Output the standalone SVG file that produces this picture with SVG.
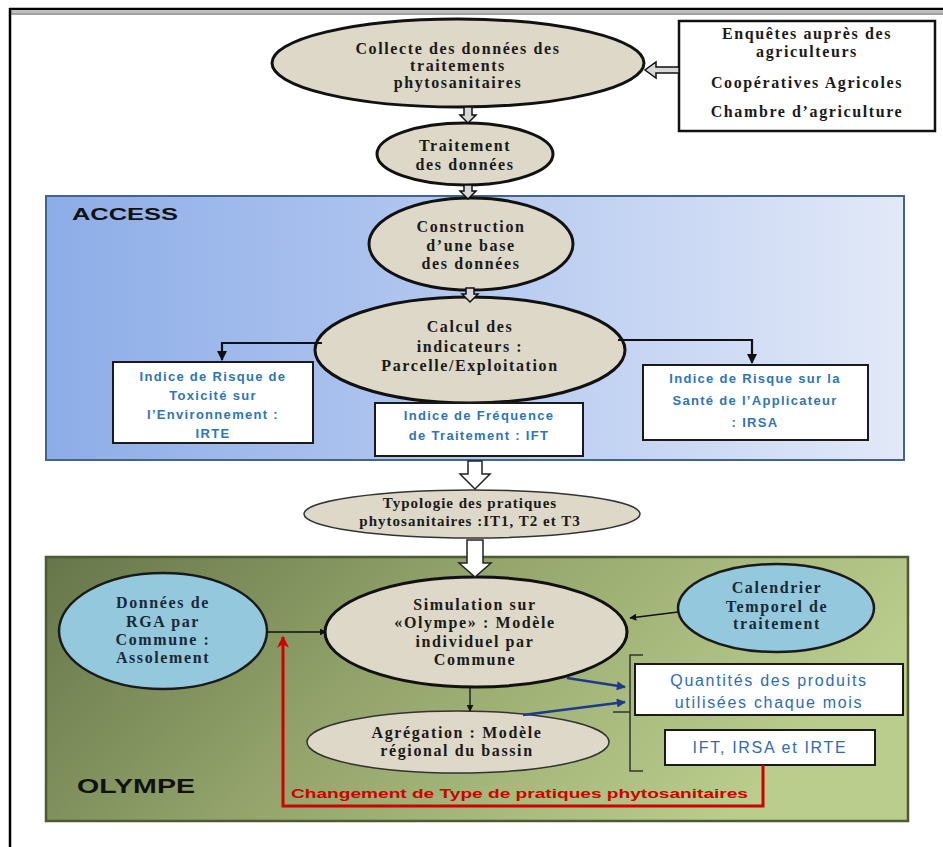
<svg xmlns="http://www.w3.org/2000/svg" width="943" height="847" viewBox="0 0 943 847">
<defs>
<linearGradient id="gAccess" x1="0" y1="0" x2="1" y2="0">
<stop offset="0" stop-color="#8dade8"/><stop offset="0.5" stop-color="#b5c9f0"/><stop offset="1" stop-color="#e2e9f8"/>
</linearGradient>
<linearGradient id="gOlympe" x1="0" y1="0" x2="1" y2="0.3">
<stop offset="0" stop-color="#66764a"/><stop offset="0.45" stop-color="#92a26a"/><stop offset="1" stop-color="#bacd8c"/>
</linearGradient>
<marker id="mBlack" viewBox="0 0 10 10" refX="9" refY="5" markerWidth="7" markerHeight="7" markerUnits="userSpaceOnUse" orient="auto"><path d="M0,0 L10,5 L0,10 Z" fill="#111"/></marker>
<marker id="mBig" viewBox="0 0 10 10" refX="9" refY="5" markerWidth="10" markerHeight="10" markerUnits="userSpaceOnUse" orient="auto"><path d="M0,0 L10,5 L0,10 Z" fill="#111"/></marker>
<marker id="mBlue" viewBox="0 0 10 10" refX="9" refY="5" markerWidth="10" markerHeight="9" markerUnits="userSpaceOnUse" orient="auto"><path d="M0,0 L10,5 L0,10 Z" fill="#1f3a8a"/></marker>
<marker id="mRed" viewBox="0 0 10 10" refX="9" refY="5" markerWidth="12" markerHeight="12" markerUnits="userSpaceOnUse" orient="auto"><path d="M0,0 L10,5 L0,10 L3,5 Z" fill="#d00000"/></marker>
</defs>
<style>
.beige{fill:#ddd8c8;stroke:#111;stroke-width:3}
.beigeThin{fill:#ddd8c8;stroke:#333;stroke-width:1.5}
.sky{fill:#94c9dd;stroke:#1a1a1a;stroke-width:2.5}
.wbox{fill:#fff;stroke:#1a1a1a;stroke-width:2}
.t{font-family:"Liberation Serif","Times New Roman",serif;font-weight:bold;font-size:16px;letter-spacing:1.6px;fill:#1a1a1a;text-anchor:middle}
.tn{fill:#1b2838}
.ts{font-size:15px;letter-spacing:1px}
.b{font-family:"Liberation Sans",Arial,sans-serif;font-weight:bold;font-size:13px;letter-spacing:1.3px;fill:#2e75b6;text-anchor:middle}
.bl{font-family:"Liberation Sans",Arial,sans-serif;font-size:16px;letter-spacing:1.7px;fill:#2e6db0;text-anchor:middle}
.lab{font-family:"Liberation Sans",Arial,sans-serif;font-weight:bold;fill:#111}
.red{font-family:"Liberation Sans",Arial,sans-serif;font-weight:bold;font-size:13px;fill:#d00000}
.blk{fill:#d8d8d8;stroke:#111;stroke-width:1.5}
.blkW{fill:#fff;stroke:#222;stroke-width:1.5}
.ln{fill:none;stroke:#111;stroke-width:2.2}
.thin{fill:none;stroke:#111;stroke-width:1.3}
.blue{fill:none;stroke:#1f3a8a;stroke-width:2.6}
.redl{fill:none;stroke:#d00000;stroke-width:3}
</style>

<g id="frame">
<line x1="9" y1="9" x2="943" y2="9" stroke="#000" stroke-width="2.5"/>
<line x1="11" y1="12" x2="943" y2="12" stroke="#aaa" stroke-width="1.5"/>
<line x1="11" y1="14" x2="943" y2="14" stroke="#444" stroke-width="1.2"/>
<line x1="10" y1="8" x2="10" y2="847" stroke="#000" stroke-width="2.5"/>
</g>

<g id="panel-access">
<rect x="46" y="196" width="858" height="264" fill="url(#gAccess)" stroke="#44648c" stroke-width="2"/>
<text class="lab" x="72" y="220" font-size="17" textLength="106" lengthAdjust="spacingAndGlyphs" fill="#16233c">ACCESS</text>
</g>

<g id="panel-olympe">
<rect x="46" y="557" width="862" height="264" fill="url(#gOlympe)" stroke="#4d5a33" stroke-width="2.5"/>
<text class="lab" x="77" y="793" font-size="21" textLength="118" lengthAdjust="spacingAndGlyphs">OLYMPE</text>
</g>

<g id="n-collecte">
<ellipse class="beige" cx="458" cy="63" rx="186" ry="44"/>
<text class="t" x="458" y="54">Collecte des données des</text>
<text class="t" x="458" y="71">traitements</text>
<text class="t" x="458" y="88">phytosanitaires</text>
</g>

<g id="n-sources">
<rect x="679" y="21" width="256" height="110" fill="#fff" stroke="#111" stroke-width="2.5"/>
<text class="t" x="807" y="39">Enquêtes auprès des</text>
<text class="t" x="807" y="57">agriculteurs</text>
<text class="t" x="807" y="88">Coopératives Agricoles</text>
<text class="t" x="807" y="117">Chambre d’agriculture</text>
</g>

<g id="n-traitement">
<ellipse class="beige" cx="465" cy="154" rx="88" ry="31"/>
<text class="t" x="465" y="151">Traitement</text>
<text class="t" x="465" y="170">des données</text>
</g>

<g id="n-construction">
<ellipse class="beige" cx="471" cy="244" rx="102" ry="46"/>
<text class="t" x="471" y="232">Construction</text>
<text class="t" x="471" y="251">d’une base</text>
<text class="t" x="471" y="269">des données</text>
</g>

<g id="n-calcul">
<ellipse class="beige" cx="470" cy="350" rx="155" ry="53"/>
<text class="t" x="470" y="332">Calcul des</text>
<text class="t" x="470" y="352">indicateurs :</text>
<text class="t" x="470" y="371">Parcelle/Exploitation</text>
</g>

<g id="n-irte">
<rect class="wbox" x="113" y="362" width="200" height="81"/>
<text class="b" x="213" y="381">Indice de  Risque de</text>
<text class="b" x="213" y="400">Toxicité sur</text>
<text class="b" x="213" y="419">l’Environnement :</text>
<text class="b" x="213" y="438">IRTE</text>
</g>

<g id="n-ift">
<rect class="wbox" x="375" y="403" width="208" height="53"/>
<text class="b" x="479" y="420">Indice de Fréquence</text>
<text class="b" x="479" y="440">de Traitement : IFT</text>
</g>

<g id="n-irsa">
<rect class="wbox" x="643" y="365" width="225" height="75"/>
<text class="b" x="755" y="383">Indice de  Risque sur la</text>
<text class="b" x="755" y="405">Santé de l’Applicateur</text>
<text class="b" x="755" y="427">: IRSA</text>
</g>

<g id="n-typologie">
<ellipse class="beigeThin" cx="472" cy="514" rx="168" ry="24"/>
<text class="t ts" x="470" y="508">Typologie des pratiques</text>
<text class="t ts" x="470" y="526">phytosanitaires :IT1, T2 et T3</text>
</g>

<g id="n-rga">
<ellipse class="sky" cx="163" cy="631" rx="104" ry="58"/>
<text class="t tn" x="163" y="608">Données de</text>
<text class="t tn" x="163" y="627">RGA par</text>
<text class="t tn" x="163" y="645">Commune :</text>
<text class="t tn" x="163" y="663">Assolement</text>
</g>

<g id="n-simulation">
<ellipse class="beige" cx="476" cy="632" rx="151" ry="55"/>
<text class="t" x="475" y="610">Simulation sur</text>
<text class="t" x="475" y="628">«Olympe» : Modèle</text>
<text class="t" x="475" y="647">individuel par</text>
<text class="t" x="475" y="665">Commune</text>
</g>

<g id="n-calendrier">
<ellipse class="sky" cx="776" cy="608" rx="98" ry="44"/>
<text class="t tn" x="777" y="593">Calendrier</text>
<text class="t tn" x="777" y="612">Temporel de</text>
<text class="t tn" x="777" y="629">traitement</text>
</g>

<g id="n-agregation">
<ellipse class="beigeThin" cx="458" cy="742" rx="151" ry="31"/>
<text class="t" x="457" y="738">Agrégation : Modèle</text>
<text class="t" x="457" y="756">régional du bassin</text>
</g>

<g id="n-quantites">
<rect class="wbox" x="635" y="664" width="268" height="51"/>
<text class="bl" x="769" y="686">Quantités des produits</text>
<text class="bl" x="769" y="708">utilisées chaque mois</text>
</g>

<g id="n-indices">
<rect class="wbox" x="665" y="730" width="210" height="35"/>
<text class="bl" x="770" y="753">IFT, IRSA et IRTE</text>
</g>

<g id="connectors">
<path class="blk" d="M679,67 L656,67 L656,62 L645,70 L656,78 L656,73 L679,73 Z"/>
<path class="blk" d="M464,107 L472,107 L472,115 L476,115 L468,123 L460,115 L464,115 Z"/>
<path class="blk" d="M464,185 L472,185 L472,191 L476,191 L468,199 L460,191 L464,191 Z"/>
<path class="blk" d="M466,288 L474,288 L474,294 L478,294 L470,302 L462,294 L466,294 Z"/>
<path class="ln" d="M322,343 H222 V360" marker-end="url(#mBig)"/>
<path class="ln" d="M618,340 H752 V363" marker-end="url(#mBig)"/>
<path class="blkW" d="M468,461 L482,461 L482,474 L490,474 L475,489 L460,474 L468,474 Z"/>
<path class="blkW" d="M467,540 L483,540 L483,563 L491,563 L475,577 L459,563 L467,563 Z"/>
<path class="thin" d="M267,632 H326" marker-end="url(#mBlack)"/>
<path class="thin" d="M678,612 L630,618" marker-end="url(#mBlack)"/>
<path class="thin" d="M470,688 V711" marker-end="url(#mBlack)"/>
<path class="blue" d="M567,678 L625,687" marker-end="url(#mBlue)"/>
<path class="blue" d="M523,715 L625,702" marker-end="url(#mBlue)"/>
<path fill="none" stroke="#333" stroke-width="1.5" d="M643,655 H630 V771 H643 M630,712 H613"/>
<path class="redl" d="M763,765 V806 H283 V637" marker-end="url(#mRed)"/>
<text class="red" x="291" y="798" textLength="457" lengthAdjust="spacingAndGlyphs">Changement  de Type de pratiques  phytosanitaires</text>
</g>
</svg>
